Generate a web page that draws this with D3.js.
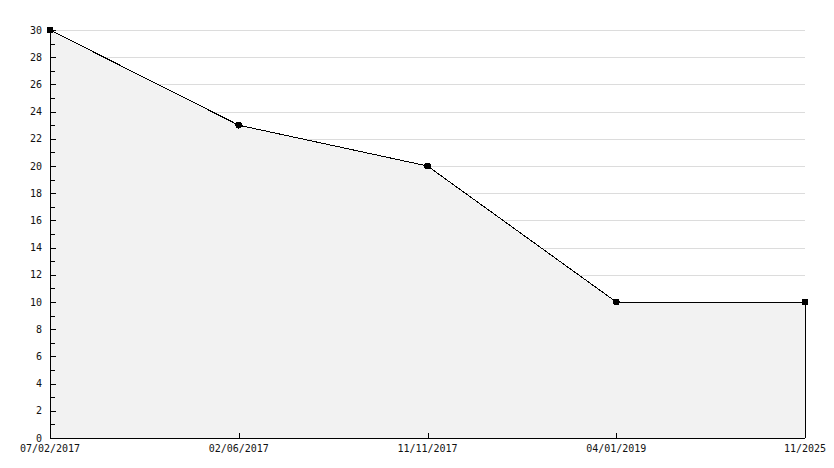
<!DOCTYPE html>
<html>
<head>
<meta charset="utf-8">
<script src="https://cdn.jsdelivr.net/npm/d3@7"></script>
<style>
  body { margin: 0; background: #fff; }
  svg text { font-family: "DejaVu Sans Mono", monospace; font-size: 10px; fill: #111; }
  svg line, svg path { shape-rendering: crispEdges; }
</style>
</head>
<body>
<div id="chart"></div>
<script>
const dates = ["07/02/2017", "02/06/2017", "11/11/2017", "04/01/2019", "11/2025"];
const values = [30, 23, 20, 10, 10];
const yTicks = [0, 2, 4, 6, 8, 10, 12, 14, 16, 18, 20, 22, 24, 26, 28, 30];

const margin = {top: 30, right: 29, bottom: 30, left: 50};
const width = 834 - margin.left - margin.right;
const height = 468 - margin.top - margin.bottom;

const svg = d3.select("#chart").append("svg")
    .attr("width", 834)
    .attr("height", 468)
  .append("g")
    .attr("transform", `translate(${margin.left},${margin.top})`);

const data = dates.map((d, i) => ({date: d, num: values[i]}));

// scales
const x = d3.scalePoint().domain(dates).range([0, width]);
const y = d3.scaleLinear().domain([0, 30]).range([height, 0]);

// grid
svg.append("g")
    .selectAll("line")
    .data(yTicks.filter(t => t > 0))
    .join("line")
    .attr("x1", 0)
    .attr("x2", width)
    .attr("y1", d => Math.round(y(d)) + 0.5)
    .attr("y2", d => Math.round(y(d)) + 0.5)
    .attr("stroke", "#dcdcdc");

// area
const area = d3.area()
    .x(d => x(d.date))
    .y0(y(0))
    .y1(d => y(d.num));

svg.append("path")
    .datum(data)
    .attr("d", area)
    .attr("fill", "#f2f2f2");

// line
const line = d3.line()
    .x(d => x(d.date))
    .y(d => y(d.num));

svg.append("path")
    .datum(data)
    .attr("d", line)
    .attr("fill", "none")
    .attr("stroke", "#000")
    .attr("stroke-width", 1);

// closing edge at the end
const last = data[data.length - 1];
svg.append("line")
    .attr("x1", x(last.date) + 0.5)
    .attr("x2", x(last.date) + 0.5)
    .attr("y1", y(last.num))
    .attr("y2", y(0))
    .attr("stroke", "#000");

// y axis
const yAxis = d3.axisRight(y)
    .tickValues(d3.range(0, 31, 1))
    .tickSize(5)
    .tickFormat("");

const yg = svg.append("g")
    .attr("transform", "translate(0.5,0)")
    .call(yAxis);
yg.select(".domain").attr("d", `M0,${y(30)}V${y(0)}`);
yg.selectAll(".tick line").attr("x2", d => d % 2 === 0 ? 5 : 4);
yg.selectAll(".tick text").remove();

svg.append("g")
    .selectAll("text")
    .data(yTicks)
    .join("text")
    .attr("x", -8)
    .attr("y", d => y(d))
    .attr("dy", "0.35em")
    .attr("text-anchor", "end")
    .text(d => d);

// x axis
svg.append("line")
    .attr("x1", 0)
    .attr("x2", width)
    .attr("y1", height + 0.5)
    .attr("y2", height + 0.5)
    .attr("stroke", "#000");

svg.append("g")
    .selectAll("line")
    .data(dates.slice(1, -1))
    .join("line")
    .attr("x1", d => Math.round(x(d)) + 0.5)
    .attr("x2", d => Math.round(x(d)) + 0.5)
    .attr("y1", height)
    .attr("y2", height - 5)
    .attr("stroke", "#000");

svg.append("g")
    .selectAll("text")
    .data(dates)
    .join("text")
    .attr("x", d => x(d))
    .attr("y", height + 14)
    .attr("text-anchor", "middle")
    .text(d => d);

// markers
svg.append("g")
    .selectAll("path")
    .data(data)
    .join("path")
    .attr("transform", d => `translate(${x(d.date)},${y(d.num)})`)
    .attr("d", d3.symbol(d3.symbolCircle, 36))
    .attr("fill", "#000");
</script>
</body>
</html>
